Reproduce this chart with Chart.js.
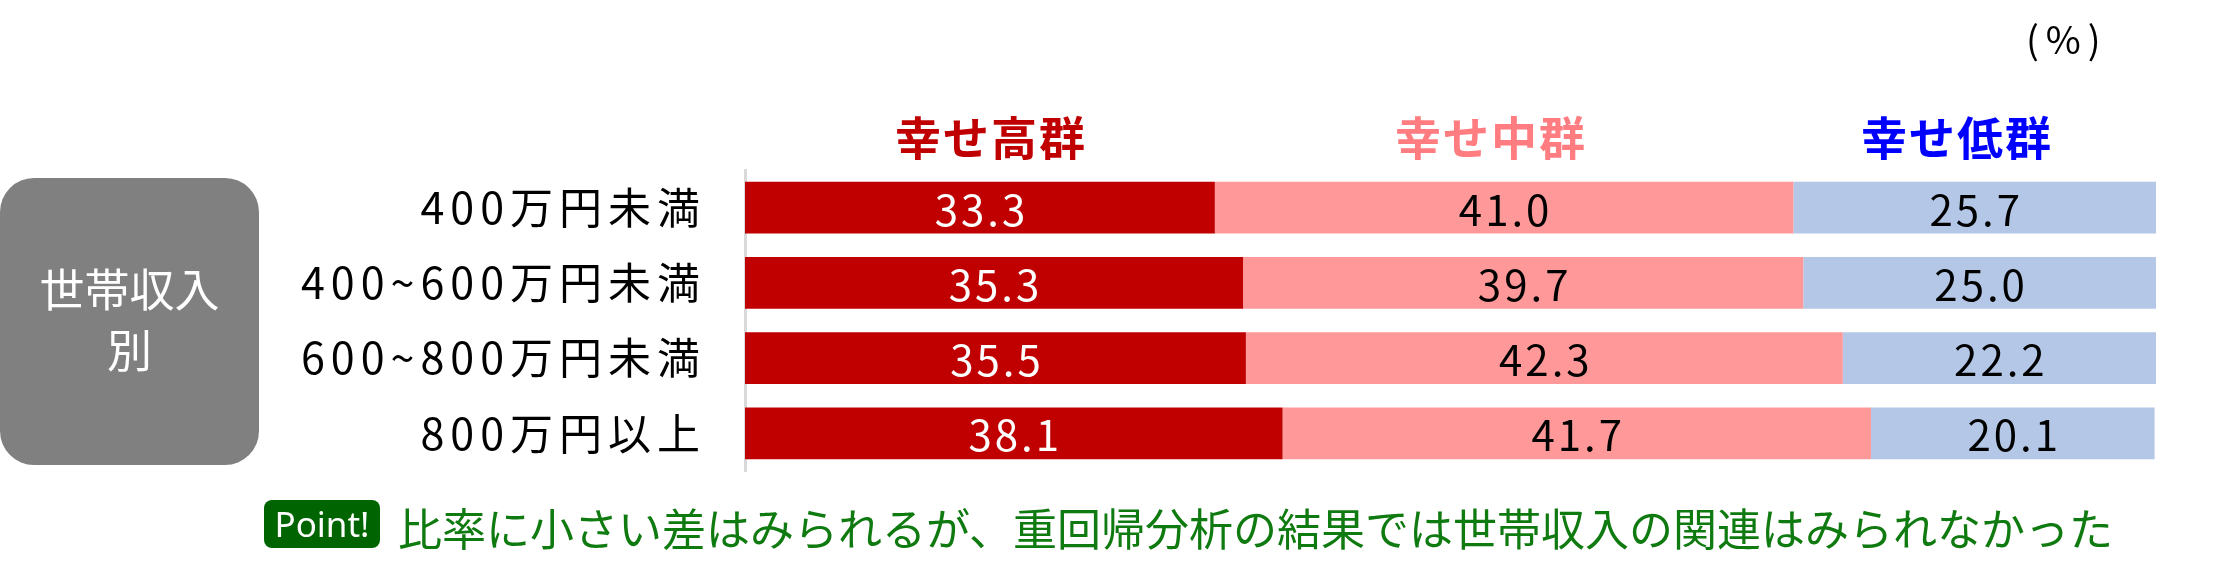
<!DOCTYPE html>
<html lang="ja">
<head>
<meta charset="utf-8">
<script src="https://cdn.jsdelivr.net/npm/chart.js@4.4.1/dist/chart.umd.min.js"></script>
<style>
  html, body { margin: 0; padding: 0; background: #ffffff; }
  body { width: 2214px; height: 588px; position: relative; overflow: hidden;
         font-family: "Noto Sans CJK JP", "Noto Sans", sans-serif; }
  #chart { position: absolute; left: 0; top: 0; }
  .abs { position: absolute; white-space: nowrap; line-height: 1; }
  #unit { left: 2026px; top: 19px; font-size: 38px; letter-spacing: 7px; color: #000; }
  .hdr { top: 112px; font-size: 46px; letter-spacing: 2px; font-weight: bold; transform: translateX(-50%); }
  #box { left: 0; top: 178px; width: 259px; height: 287px; border-radius: 34px; background: #808080;
         color: #fff; font-size: 45px; text-align: center; }
  #box div { position: absolute; left: 0; width: 100%; line-height: 1; }
  #point { left: 264px; top: 500px; width: 116px; height: 48px; border-radius: 8px; background: #006400;
           color: #fff; font-family: "Noto Sans", sans-serif; font-size: 35px; text-align: center; line-height: 48px; }
  #note { left: 398px; top: 505px; font-size: 44px; color: #0f7a0f; }
</style>
</head>
<body>
<canvas id="chart" width="2214" height="588"></canvas>
<div class="abs" id="unit">(%)</div>
<div class="abs hdr" id="h0"></div>
<div class="abs hdr" id="h1"></div>
<div class="abs hdr" id="h2"></div>
<div class="abs" id="box"><div style="top:87px">世帯収入</div><div style="top:148px">別</div></div>
<div class="abs" id="point">Point!</div>
<div class="abs" id="note">比率に小さい差はみられるが、重回帰分析の結果では世帯収入の関連はみられなかった</div>
<script>
const categories = ["400万円未満", "400~600万円未満", "600~800万円未満", "800万円以上"];
const seriesNames = ["幸せ高群", "幸せ中群", "幸せ低群"];
const highValues = [33.3, 35.3, 35.5, 38.1];
const midValues  = [41.0, 39.7, 42.3, 41.7];
const lowValues  = [25.7, 25.0, 22.2, 20.1];
const barColors  = ["#C00000", "#FF9999", "#B4C7E7"];
const headerColors = ["#C00000", "#FF7C80", "#0000FF"];
const labelColors = ["#FFFFFF", "#000000", "#000000"];
const headerX = [991, 1491, 1957];

seriesNames.forEach((n, i) => {
  const el = document.getElementById("h" + i);
  el.textContent = n;
  el.style.color = headerColors[i];
  el.style.left = headerX[i] + "px";
});

const spacing = {
  id: "spacing",
  beforeDraw(chart) { chart.ctx.letterSpacing = "6px"; },
  afterDraw(chart) { chart.ctx.letterSpacing = "0px"; }
};

const valueLabels = {
  id: "valueLabels",
  afterDatasetsDraw(chart) {
    const ctx = chart.ctx;
    ctx.save();
    ctx.letterSpacing = "3px";
    ctx.font = '42px "Noto Sans CJK JP", "Noto Sans", sans-serif';
    ctx.textAlign = "center";
    ctx.textBaseline = "middle";
    chart.data.datasets.forEach((ds, di) => {
      const meta = chart.getDatasetMeta(di);
      ctx.fillStyle = labelColors[di];
      meta.data.forEach((bar, i) => {
        const cx = (bar.x + bar.base) / 2 + 1.5;
        ctx.fillText(ds.data[i].toFixed(1), cx, bar.y + 2);
      });
    });
    ctx.restore();
  }
};

new Chart(document.getElementById("chart"), {
  type: "bar",
  data: {
    labels: categories,
    datasets: [
      { label: seriesNames[0], data: highValues, backgroundColor: barColors[0] },
      { label: seriesNames[1], data: midValues,  backgroundColor: barColors[1] },
      { label: seriesNames[2], data: lowValues,  backgroundColor: barColors[2] }
    ]
  },
  options: {
    indexAxis: "y",
    responsive: false,
    animation: false,
    devicePixelRatio: 1,
    layout: { padding: { top: 170, bottom: 117, left: 0, right: 58 } },
    datasets: { bar: { categoryPercentage: 1.0, barPercentage: 0.69, borderWidth: 0 } },
    plugins: { legend: { display: false }, tooltip: { enabled: false } },
    scales: {
      x: { stacked: true, min: 0, max: 100, display: false },
      y: {
        stacked: true,
        grid: { display: false, drawTicks: false },
        border: { display: true, color: "#D9D9D9", width: 3 },
        ticks: {
          color: "#000000",
          padding: 39,
          font: { family: '"Noto Sans CJK JP", "Noto Sans", sans-serif', size: 43 }
        },
        afterFit(scale) { scale.width = 745; }
      }
    }
  },
  plugins: [spacing, valueLabels]
});
</script>
</body>
</html>
